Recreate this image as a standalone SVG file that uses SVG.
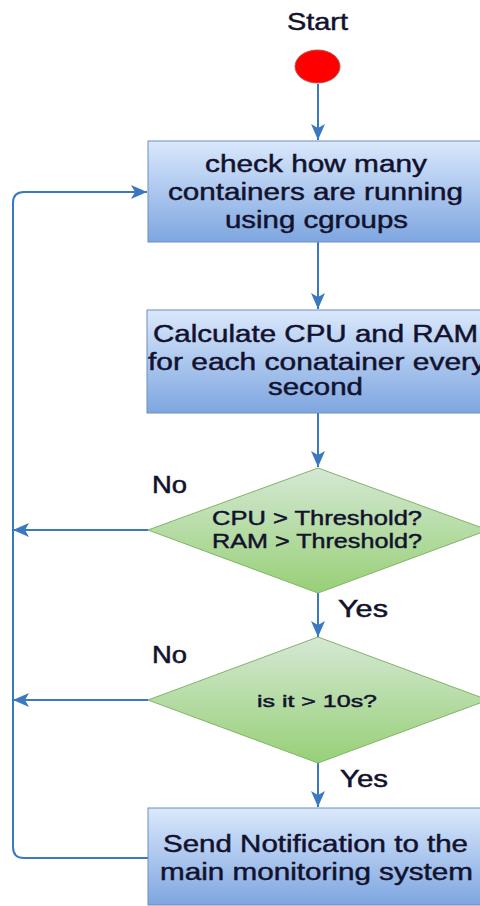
<svg xmlns="http://www.w3.org/2000/svg" width="480" height="906" viewBox="0 0 480 906">
<defs>
<linearGradient id="gBlue" x1="0" y1="0" x2="0" y2="1"><stop offset="0" stop-color="#dae8fc"/><stop offset="1" stop-color="#7ea6e0"/></linearGradient>
<linearGradient id="gGreen" x1="0" y1="0" x2="0" y2="1"><stop offset="0" stop-color="#d5e8d4"/><stop offset="1" stop-color="#97d077"/></linearGradient>
<marker id="arr" markerUnits="userSpaceOnUse" markerWidth="18" markerHeight="16" refX="16" refY="7" orient="auto"><path d="M0,0 L16,7 L0,14 L4,7 z" fill="#3a78c0"/></marker>
</defs>
<style>
.box{fill:url(#gBlue);stroke:#6c8ebf;stroke-width:1}
.dia{fill:url(#gGreen);stroke:#82b366;stroke-width:1}
.t{font-family:"Liberation Sans",Arial,sans-serif;fill:#12122e;stroke:#12122e;stroke-width:0.45;text-anchor:middle}
.b{font-size:23px}
.d{font-size:20px}
.lbl{font-family:"Liberation Sans",Arial,sans-serif;fill:#12122e;stroke:#12122e;stroke-width:0.5;font-size:23px}
.c{fill:none;stroke:#3a78c0;stroke-width:2;marker-end:url(#arr)}
</style>
<rect width="480" height="906" fill="#ffffff"/>
<g id="connectors">
<line class="c" x1="318" y1="84" x2="318" y2="140"/>
<line class="c" x1="318" y1="242" x2="318" y2="309"/>
<line class="c" x1="318" y1="413" x2="318" y2="467"/>
<line class="c" x1="318" y1="593" x2="318" y2="637"/>
<line class="c" x1="318" y1="763" x2="318" y2="807"/>
<line class="c" x1="148" y1="530" x2="13" y2="530"/>
<line class="c" x1="148" y1="700" x2="13" y2="700"/>
<path class="c" d="M148,858 H24 Q13,858 13,847 V203 Q13,192 24,192 H147"/>
<text class="lbl" x="152" y="493" textLength="35" lengthAdjust="spacingAndGlyphs">No</text>
<text class="lbl" x="338" y="617" textLength="50" lengthAdjust="spacingAndGlyphs">Yes</text>
<text class="lbl" x="152" y="663" textLength="35" lengthAdjust="spacingAndGlyphs">No</text>
<text class="lbl" x="340" y="787" textLength="48" lengthAdjust="spacingAndGlyphs">Yes</text>
</g>
<g id="start">
<text class="t b" x="317.5" y="30" textLength="61" lengthAdjust="spacingAndGlyphs">Start</text>
<ellipse cx="317.5" cy="66.5" rx="22.5" ry="16.5" fill="#ff0000" stroke="#b85450" stroke-width="1"/>
</g>
<g id="check">
<rect class="box" x="148" y="141" width="340" height="101"/>
<text class="t b" x="316" y="171.5" textLength="222" lengthAdjust="spacingAndGlyphs">check how many</text>
<text class="t b" x="315.5" y="200" textLength="295" lengthAdjust="spacingAndGlyphs">containers are running</text>
<text class="t b" x="316.5" y="228" textLength="183" lengthAdjust="spacingAndGlyphs">using cgroups</text>
</g>
<g id="calculate">
<rect class="box" x="147" y="310" width="341" height="103"/>
<text class="t b" x="315.5" y="341.5" textLength="325" lengthAdjust="spacingAndGlyphs">Calculate CPU and RAM</text>
<text class="t b" x="317" y="370" textLength="338" lengthAdjust="spacingAndGlyphs">for each conatainer every</text>
<text class="t b" x="315.5" y="394.5" textLength="95" lengthAdjust="spacingAndGlyphs">second</text>
</g>
<g id="threshold">
<polygon class="dia" points="318,468 488,530 318,593 148,530"/>
<text class="t d" x="317" y="525" textLength="210" lengthAdjust="spacingAndGlyphs">CPU &gt; Threshold?</text>
<text class="t d" x="317" y="548" textLength="210" lengthAdjust="spacingAndGlyphs">RAM &gt; Threshold?</text>
</g>
<g id="duration">
<polygon class="dia" points="318,637 488,700 318,763 148,700"/>
<text class="t" style="font-size:17px" x="317" y="707" textLength="120" lengthAdjust="spacingAndGlyphs">is it &gt; 10s?</text>
</g>
<g id="notify">
<rect class="box" x="148" y="808" width="340" height="97"/>
<text class="t b" x="315.5" y="852" textLength="305" lengthAdjust="spacingAndGlyphs">Send Notification to the</text>
<text class="t b" x="316.5" y="880" textLength="313" lengthAdjust="spacingAndGlyphs">main monitoring system</text>
</g>
</svg>
